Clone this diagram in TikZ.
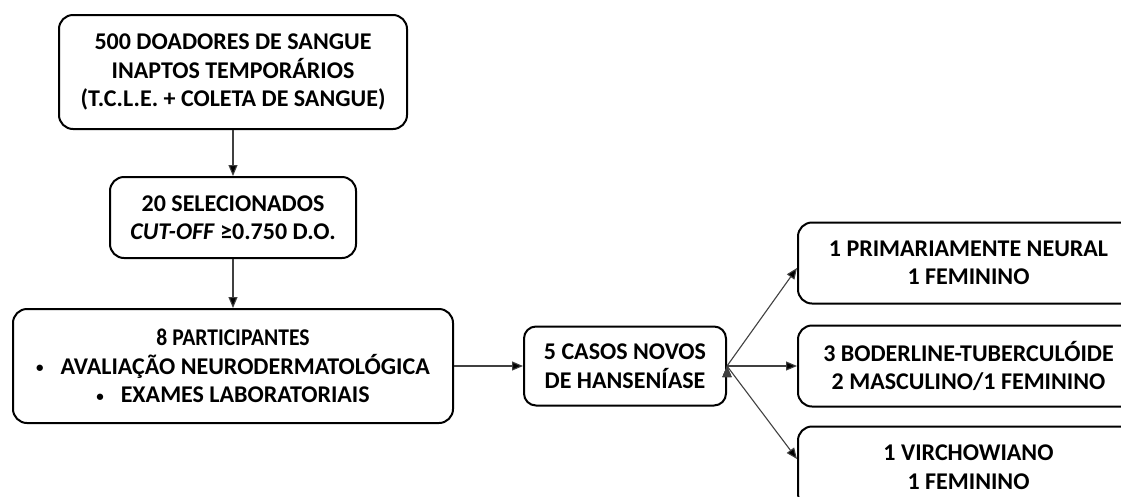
\documentclass[tikz,border=0pt]{standalone}
\usepackage{fontspec}
\setmainfont{Carlito}
\usepackage{tikz}
\usetikzlibrary{shapes,arrows.meta,positioning}
\definecolor{edgegray}{RGB}{64,64,64}
\newcommand{\smallbullet}{\raisebox{1.5pt}{\fontsize{15pt}{15pt}\selectfont\textbullet}\hspace{17pt}}
\tikzstyle{box} = [rectangle, rounded corners=14pt, draw=black, line width=2pt, fill=white, text=black, align=center, font=\bfseries\fontsize{24pt}{28.5pt}\selectfont, inner sep=0pt]
\tikzstyle{tedge}  = [draw=edgegray, line width=1.1pt, -{Triangle[length=11pt,width=9pt]}]

\begin{document}
\begin{tikzpicture}[x=1pt,y=-1pt]
\path[use as bounding box, clip] (0,0) rectangle (1121,496);

% selection of the donors =============================
\node[box, minimum width=348pt, minimum height=114pt] (doad) at (233,72) {500 DOADORES DE SANGUE\\INAPTOS TEMPORÁRIOS\\(T.C.L.E. + COLETA DE SANGUE)};
\node[box, below=46pt of doad, minimum width=246pt, minimum height=81pt] (sel) {20 SELECIONADOS\\\textit{CUT-OFF} ≥0.750 D.O.};
\node[box, below=49pt of sel, minimum width=440pt, minimum height=114pt] (part) {\scalebox{0.9}[1]{8 PARTICIPANTES}\\\smallbullet AVALIAÇÃO NEURODERMATOLÓGICA\\\smallbullet EXAMES LABORATORIAIS};
\node[box, right=69pt of part, minimum width=202pt, minimum height=79pt, rounded corners=12pt] (casos) {5 CASOS NOVOS\\DE HANSENÍASE};

% clinical forms
\node[box, right=70pt of casos, minimum width=341pt, minimum height=81pt] (bt) {3 BODERLINE-TUBERCULÓIDE\\2 MASCULINO/1 FEMININO};
\node[box, above=20pt of bt, minimum width=341pt, minimum height=81pt] (pn) {1 PRIMARIAMENTE NEURAL\\1 FEMININO};
\node[box, below=18pt of bt, minimum width=341pt, minimum height=81pt] (vir) {1 VIRCHOWIANO\\1 FEMININO};

% edges
\path[tedge] (doad) edge (sel);
\path[tedge] (sel) edge (part);
\path[tedge] (part) edge (casos);
\path[tedge] (casos.east) edge ([yshift=-5pt]pn.west);
\path[tedge] (casos.east) edge (bt.west);
\path[tedge] (casos.east) edge ([yshift=8pt]vir.west);

\end{tikzpicture}
\end{document}
